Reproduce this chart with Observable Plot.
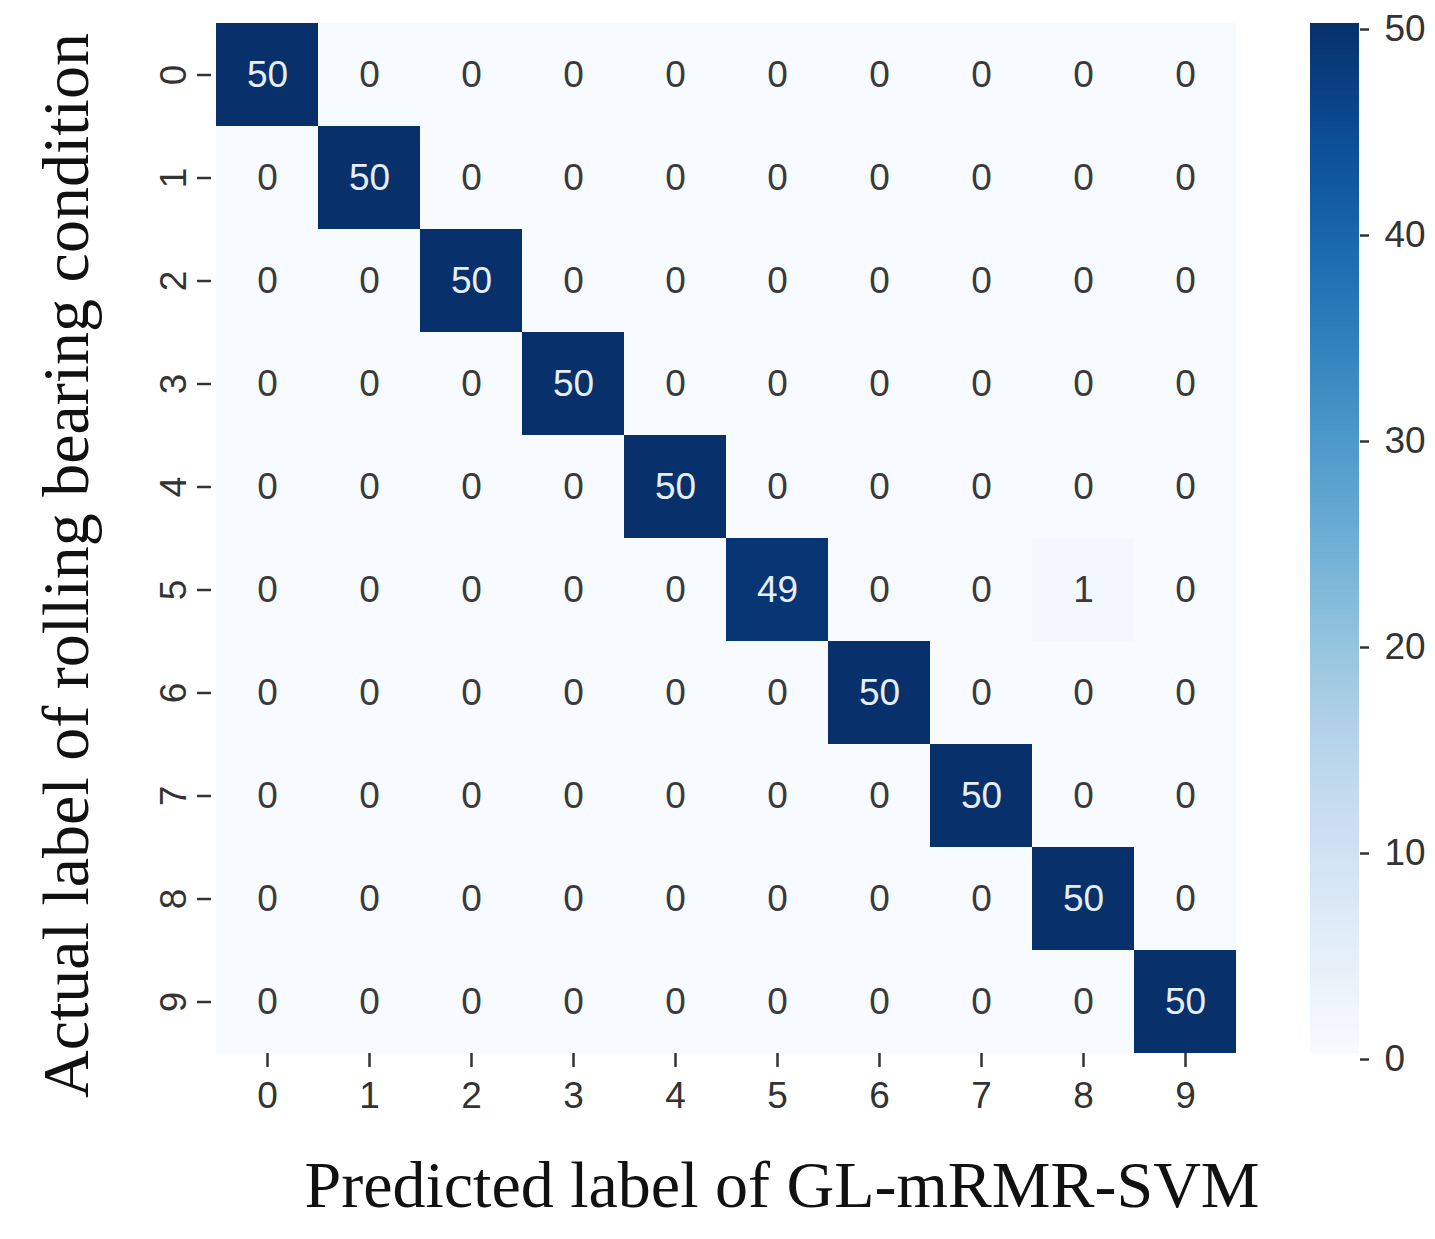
<!DOCTYPE html>
<html>
<head>
<meta charset="utf-8">
<script src="https://cdn.jsdelivr.net/npm/d3@7"></script>
<script src="https://cdn.jsdelivr.net/npm/@observablehq/plot@0.6"></script>
<style>
  html, body { margin: 0; padding: 0; background: #fff; }
  #wrap { position: relative; width: 1435px; height: 1239px; }
  #wrap > svg { position: absolute; top: 0; }
</style>
</head>
<body>
<div id="wrap"></div>
<script>
// ---- data ----
const labels = ["0", "1", "2", "3", "4", "5", "6", "7", "8", "9"];
const row0 = [50, 0, 0, 0, 0, 0, 0, 0, 0, 0];
const row1 = [0, 50, 0, 0, 0, 0, 0, 0, 0, 0];
const row2 = [0, 0, 50, 0, 0, 0, 0, 0, 0, 0];
const row3 = [0, 0, 0, 50, 0, 0, 0, 0, 0, 0];
const row4 = [0, 0, 0, 0, 50, 0, 0, 0, 0, 0];
const row5 = [0, 0, 0, 0, 0, 49, 0, 0, 1, 0];
const row6 = [0, 0, 0, 0, 0, 0, 50, 0, 0, 0];
const row7 = [0, 0, 0, 0, 0, 0, 0, 50, 0, 0];
const row8 = [0, 0, 0, 0, 0, 0, 0, 0, 50, 0];
const row9 = [0, 0, 0, 0, 0, 0, 0, 0, 0, 50];
const colorTicks = [0, 10, 20, 30, 40, 50];
const xTitle = "Predicted label of GL-mRMR-SVM";
const yTitle = "Actual label of rolling bearing condition";

const matrix = [row0, row1, row2, row3, row4, row5, row6, row7, row8, row9];
const cells = [];
matrix.forEach((row, i) => row.forEach((v, j) => cells.push({actual: labels[i], predicted: labels[j], value: v})));

const sans = "'Liberation Sans', Arial, sans-serif";
const serif = "'Liberation Serif', 'Times New Roman', serif";
const colorOpts = {type: "linear", scheme: "blues", domain: [0, 50]};

const main = Plot.plot({
  width: 1435,
  height: 1239,
  marginLeft: 211,
  marginRight: 195,
  marginTop: 23,
  marginBottom: 186,
  style: {background: "transparent", fontFamily: sans, color: "#333"},
  x: {domain: labels, padding: 0, axis: null},
  y: {domain: labels, padding: 0, axis: null},
  color: colorOpts,
  marks: [
    Plot.cell(cells, {x: "predicted", y: "actual", fill: "value"}),
    Plot.text(cells, {
      x: "predicted", y: "actual", text: d => String(d.value),
      fill: d => d.value > 25 ? "#e6eef9" : "#3a3a3a",
      fontSize: 37, fontFamily: sans
    }),
    Plot.axisX({anchor: "bottom", tickSize: 14, tickPadding: 14, fontSize: 37, fontFamily: sans, label: null, stroke: "#333", color: "#333", strokeWidth: 2.5}),
    Plot.axisY({anchor: "left", tickSize: 14, tickPadding: 12, tickRotate: -90, fontSize: 37, fontFamily: sans, label: null, stroke: "#333", color: "#333", strokeWidth: 2.5}),
    Plot.text([xTitle], {frameAnchor: "bottom", dx: 56, dy: 132, fontSize: 66, fontFamily: serif, fill: "#111", lineAnchor: "middle", textAnchor: "middle"}),
    Plot.text([yTitle], {frameAnchor: "left", dx: -145, dy: 27, rotate: -90, fontSize: 66, fontFamily: serif, fill: "#111", lineAnchor: "middle", textAnchor: "middle"})
  ]
});
main.style.left = "0px";

const ramp = d3.range(0, 50, 0.25);
const bar = Plot.plot({
  width: 135,
  height: 1239,
  marginLeft: 10,
  marginRight: 76,
  marginTop: 23,
  marginBottom: 186,
  style: {background: "transparent", fontFamily: sans, color: "#333"},
  x: {axis: null},
  y: {domain: [0, 50], axis: null},
  color: colorOpts,
  marks: [
    Plot.rect(ramp, {y1: d => d, y2: d => Math.min(50, d + 0.5), fill: d => d + 0.125, shapeRendering: "crispEdges"}),
    Plot.axisY(colorTicks, {anchor: "right", tickSize: 9, tickPadding: 16, fontSize: 37, fontFamily: sans, label: null, stroke: "#333", color: "#333", strokeWidth: 2.5, dy: 6})
  ]
});
bar.style.left = "1300px";

const wrap = document.getElementById("wrap");
wrap.appendChild(main);
wrap.appendChild(bar);
</script>
</body>
</html>
